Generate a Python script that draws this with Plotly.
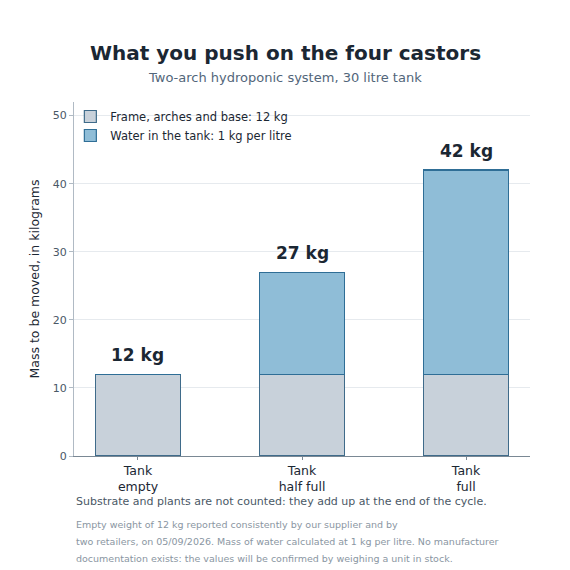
import plotly.graph_objects as go

categories = ["Tank<br>empty", "Tank<br>half full", "Tank<br>full"]
frame = [12, 12, 12]
water = [0, 15, 30]
totals = [12, 27, 42]
labels = ["12 kg", "27 kg", "42 kg"]
foot = ["Empty weight of 12 kg reported consistently by our supplier and by",
        "two retailers, on 05/09/2026. Mass of water calculated at 1 kg per litre. No manufacturer",
        "documentation exists: the values will be confirmed by weighing a unit in stock."]

F = "DejaVu Sans"
fig = go.Figure()
fig.add_bar(x=categories, y=frame, name="Frame, arches and base: 12 kg",
            marker=dict(color="#c8d1da", line=dict(color="#3f6b8a", width=1.2)), width=0.52)
fig.add_bar(x=categories, y=water, name="Water in the tank: 1 kg per litre",
            marker=dict(color="#8fbdd7", line=dict(color="#2f6e96", width=1.2)), width=0.52)
for c, t, l in zip(categories, totals, labels):
    fig.add_annotation(x=c, y=t, text="<b>"+l+"</b>", showarrow=False, yshift=19,
                       font=dict(size=17, color="#1b2733", family=F))
tx = (285 - 74) / 456
fig.add_annotation(xref="paper", yref="paper", x=tx, y=1.0, yshift=63, showarrow=False,
                   text="<b>What you push on the four castors</b>", font=dict(size=20, color="#1b2733", family=F))
fig.add_annotation(xref="paper", yref="paper", x=tx, y=1.0, yshift=34, showarrow=False,
                   text="Two-arch hydroponic system, 30 litre tank", font=dict(size=13, color="#52667a", family=F))
fig.add_annotation(xref="paper", yref="paper", x=0, xanchor="left", y=0, yanchor="top", yshift=-37, showarrow=False,
                   text="Substrate and plants are not counted: they add up at the end of the cycle.",
                   font=dict(size=11, color="#4a5866", family=F))
for i, line in enumerate(foot):
    fig.add_annotation(xref="paper", yref="paper", x=0, xanchor="left", y=0, yanchor="top",
                       yshift=-61 - 17 * i, showarrow=False, text=line,
                       font=dict(size=9.5, color="#8a96a2", family=F))
fig.update_layout(
    barmode="stack", width=570, height=570, paper_bgcolor="white", plot_bgcolor="white",
    margin=dict(l=66, r=48, t=94, b=122), font=dict(family=F, color="#1b2733"),
    legend=dict(x=-0.008, y=1.0, xanchor="left", yanchor="top", traceorder="normal",
                font=dict(size=11.5, color="#1b2733"), bgcolor="rgba(255,255,255,0)"),
    xaxis=dict(range=[-0.39, 2.39], showline=True, linecolor="#7a8894", ticks="outside", ticklen=3,
               tickcolor="#7a8894", tickfont=dict(size=12.5, color="#1b2733")),
    yaxis=dict(range=[0, 52], dtick=10, showline=True, linecolor="#b0bac4", gridcolor="#e6eaee",
               ticks="outside", ticklen=4, tickcolor="#b0bac4", tickfont=dict(size=11, color="#4a5866"),
               title=dict(text="Mass to be moved, in kilograms", font=dict(size=12.5, color="#1b2733"), standoff=10)),
)
fig.write_html("out.html")
